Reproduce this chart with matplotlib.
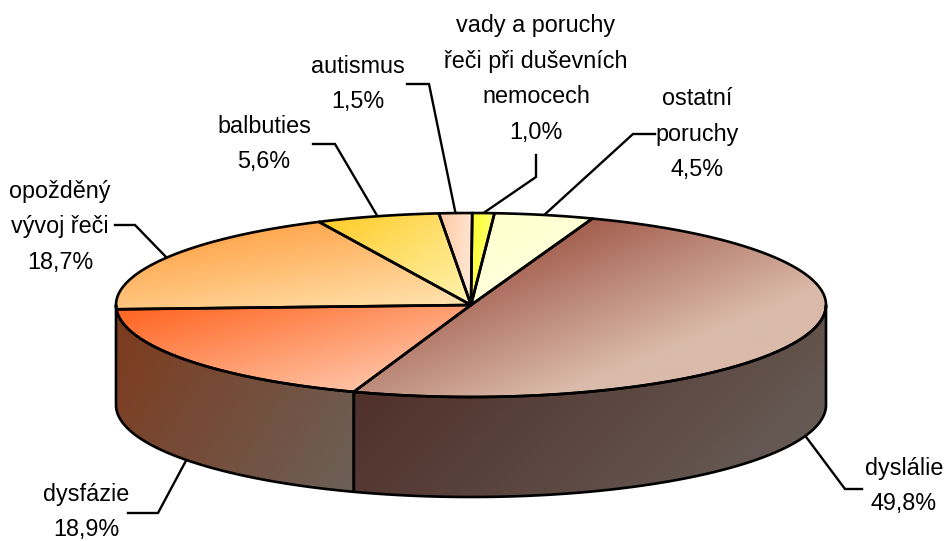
import numpy as np
import matplotlib
matplotlib.use("Agg")
import matplotlib.pyplot as plt
from matplotlib.patches import Polygon

plt.rcParams['font.family'] = ['Liberation Sans', 'DejaVu Sans']

# data
categories = ['dyslálie', 'dysfázie', 'opožděný\nvývoj řeči', 'balbuties', 'autismus',
              'vady a poruchy\nřeči při duševních\nnemocech', 'ostatní\nporuchy']
values = [49.8, 18.9, 18.7, 5.6, 1.5, 1.0, 4.5]
value_labels = ['49,8%', '18,9%', '18,7%', '5,6%', '1,5%', '1,0%', '4,5%']

# gradient colours of the slice tops: start, end, direction, how fast it reaches the end
top_from = ['#A35E4E', '#FF6420', '#FFA850', '#FFCC28', '#FFC8A0', '#FFFF28', '#FFFFCC']
top_to = ['#DABAAA', '#FFC3A5', '#FFE4B0', '#FFF4B4', '#FFEBDC', '#FFFF78', '#FFFFDC']
top_dir = [(0.4, 1), (0.26, 1), (0.17, 1), (0.7, 1), (1, 0.1), (1, 0.1), (0.5, 1)]
top_reach = [1.3, 1.0, 1.0, 1.0, 1.0, 1.0, 1.0]
wall_from = ['#50302A', '#7E3A1C']
wall_to = ['#665A54', '#6C6058']
wall_dir = [(1, 1), (1, 0.6)]

# label centre and leader line (elbow, end) in pixels
label_xy = [(904, 486), (86, 512), (60, 227), (264, 144), (358, 84), (536, 79), (697, 134)]
leader_mid = [(845, 489), (158, 513), (135, 225), (335, 144), (429, 84), (536, 177), (633, 134)]
leader_end = [(862, 489), (128, 513), (115, 225), (313, 144), (407, 84), (536, 155), (655, 134)]

cx, cy, rx, ry = 471, 305, 355, 92
depth = 100
start_angle = 20


def rim(a0, a1, dy=0, n=200):
    t = np.radians(np.linspace(a0, a1, n))
    return np.column_stack([cx + rx * np.sin(t), cy - ry * np.cos(t) + dy])


def fill_gradient(ax, pts, c0, c1, direction, reach=1.0):
    x0, y0 = pts.min(axis=0)
    x1, y1 = pts.max(axis=0)
    xx, yy = np.meshgrid(np.linspace(x0, x1, 300), np.linspace(y0, y1, 200))
    d = direction[0] * xx + direction[1] * yy
    # run the gradient over the slice itself, not its bounding box
    along = pts @ np.array(direction)
    d = np.clip((d - along.min()) / (along.max() - along.min()) * reach, 0, 1)
    c0 = np.array(matplotlib.colors.to_rgb(c0))
    c1 = np.array(matplotlib.colors.to_rgb(c1))
    img = c0 + (c1 - c0) * d[..., None]
    im = ax.imshow(img, extent=(x0, x1, y1, y0), aspect='auto', zorder=2)
    clip = Polygon(pts, closed=True, transform=ax.transData)
    im.set_clip_path(clip)


fig = plt.figure(figsize=(9.45, 5.41), dpi=100)
ax = fig.add_axes([0, 0, 1, 1])

angles = start_angle + np.concatenate([[0], np.cumsum(values)]) * 360 / sum(values)

# side wall, only the front part shows
wall_stops = [90, angles[1], 270]
for i in range(2):
    front = rim(wall_stops[i], wall_stops[i + 1])
    back = rim(wall_stops[i + 1], wall_stops[i], depth)
    pts = np.vstack([front, back])
    fill_gradient(ax, pts, wall_from[i], wall_to[i], wall_dir[i])
    ax.add_patch(Polygon(pts, closed=True, fill=False, ec='black', lw=1.9, zorder=3, joinstyle='round'))

# slice tops
for i in range(len(values)):
    pts = np.vstack([[cx, cy], rim(angles[i], angles[i + 1])])
    fill_gradient(ax, pts, top_from[i], top_to[i], top_dir[i], top_reach[i])
    ax.add_patch(Polygon(pts, closed=True, fill=False, ec='black', lw=1.9, zorder=3, joinstyle='round'))

# labels and leaders
for i in range(len(values)):
    mid = np.radians((angles[i] + angles[i + 1]) / 2)
    px = cx + rx * np.sin(mid)
    py = cy - ry * np.cos(mid)
    if np.cos(mid) < 0:
        py += depth
    ax.plot([px, leader_mid[i][0], leader_end[i][0]], [py, leader_mid[i][1], leader_end[i][1]],
            color='black', lw=1.7, zorder=1, solid_joinstyle='miter')
    ax.text(label_xy[i][0], label_xy[i][1], categories[i] + '\n' + value_labels[i],
            ha='center', va='center', fontsize=16.8, linespacing=1.72, color='black')

ax.set_xlim(0, 945)
ax.set_ylim(541, 0)
ax.axis('off')
fig.savefig('out.png', dpi=100)
